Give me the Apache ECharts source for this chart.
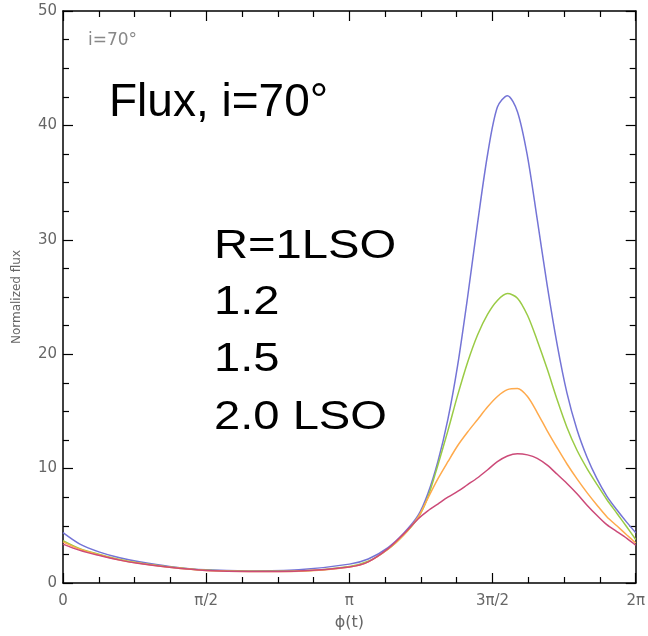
<!DOCTYPE html>
<html>
<head>
<meta charset="utf-8">
<script src="https://cdn.jsdelivr.net/npm/echarts@6/dist/echarts.min.js"></script>
<style>
html,body{margin:0;padding:0;background:#fff;}
#chart{width:648px;height:636px;}
</style>
</head>
<body>
<div id="chart"></div>
<script>
// phase in units of pi (0 .. 2)
var phase = [0, 0.059, 0.128, 0.198, 0.267, 0.372, 0.5, 0.649, 0.823, 1.0, 1.066, 1.135, 1.188, 1.24, 1.274, 1.309, 1.344, 1.378, 1.413, 1.448, 1.483, 1.517, 1.552, 1.587, 1.622, 1.656, 1.691, 1.726, 1.76, 1.795, 1.83, 1.865, 1.899, 1.934, 1.969, 2.0];
var fluxR10 = [4.4, 3.4, 2.7, 2.2, 1.85, 1.45, 1.15, 1.05, 1.15, 1.65, 2.1, 3.1, 4.3, 5.9, 7.8, 10.6, 14.3, 19.0, 25.0, 31.5, 37.5, 41.6, 42.6, 41.2, 37.3, 31.8, 26.0, 20.8, 16.6, 13.4, 11.0, 9.1, 7.6, 6.4, 5.3, 4.4];
var fluxR12 = [3.7, 3.0, 2.5, 2.05, 1.75, 1.4, 1.12, 1.02, 1.05, 1.45, 1.9, 2.95, 4.15, 5.7, 7.5, 10.3, 13.3, 16.4, 19.3, 21.7, 23.5, 24.7, 25.3, 24.9, 23.4, 21.2, 18.7, 16.0, 13.6, 11.6, 10.0, 8.6, 7.3, 6.1, 4.9, 3.8];
var fluxR15 = [3.6, 2.95, 2.45, 2.02, 1.72, 1.38, 1.1, 1.0, 1.03, 1.4, 1.85, 2.95, 4.15, 5.75, 7.4, 9.1, 10.6, 12.0, 13.2, 14.3, 15.4, 16.3, 16.9, 17.0, 16.3, 14.9, 13.3, 11.8, 10.4, 9.1, 7.9, 6.8, 5.8, 5.0, 4.2, 3.5];
var fluxR20 = [3.4, 2.85, 2.4, 2.0, 1.7, 1.38, 1.1, 1.0, 1.05, 1.4, 1.85, 3.0, 4.25, 5.6, 6.3, 6.9, 7.5, 8.0, 8.6, 9.2, 9.9, 10.6, 11.1, 11.3, 11.2, 10.9, 10.3, 9.5, 8.7, 7.8, 6.8, 5.9, 5.1, 4.5, 3.9, 3.3];
var seriesNames = ['R=1LSO', '1.2', '1.5', '2.0 LSO'];
var seriesColors = ['#7474d6', '#9acb45', '#ffaa4c', '#cc4a78'];
var xTickLabels = {'0': '0', '0.5': 'π/2', '1': 'π', '1.5': '3π/2', '2': '2π'};
var xAxisName = 'ϕ(t)';
var yAxisName = 'Normalized flux';
var insetLabel = 'i=70°';
var titleText = 'Flux, i=70°';
var legendLines = ['R=1LSO', '1.2', '1.5', '2.0 LSO'];

var allFlux = [fluxR10, fluxR12, fluxR15, fluxR20];
function pairs(arr) { return phase.map(function (p, i) { return [p, arr[i]]; }); }

var labelFont = 'DejaVu Sans';

function xAxisCfg(pos, showLabel) {
  return {
    type: 'value', min: 0, max: 2, interval: 0.5, position: pos,
    axisLine: { show: true, onZero: false, lineStyle: { color: '#000', width: 1.5 } },
    axisTick: { show: true, inside: true, length: 10, lineStyle: { color: '#000', width: 1.2 } },
    minorTick: { show: true, splitNumber: 4, length: 6, lineStyle: { color: '#000', width: 1.2 } },
    splitLine: { show: false }, minorSplitLine: { show: false },
    axisLabel: {
      show: showLabel, color: '#666', fontSize: 15, fontFamily: labelFont, margin: 11,
      formatter: function (v) { var k = String(+v.toFixed(2)); return xTickLabels[k] !== undefined ? xTickLabels[k] : ''; }
    },
    name: showLabel ? xAxisName : '', nameLocation: 'middle', nameGap: 32,
    nameTextStyle: { color: '#666', fontSize: 16, fontFamily: labelFont }
  };
}
function yAxisCfg(pos, showLabel) {
  return {
    type: 'value', min: 0, max: 50, interval: 10, position: pos,
    axisLine: { show: true, onZero: false, lineStyle: { color: '#000', width: 1.5 } },
    axisTick: { show: true, inside: true, length: 10, lineStyle: { color: '#000', width: 1.2 } },
    minorTick: { show: true, splitNumber: 4, length: 6, lineStyle: { color: '#000', width: 1.2 } },
    splitLine: { show: false }, minorSplitLine: { show: false },
    axisLabel: {
      show: showLabel, color: '#666', fontSize: 15, fontFamily: labelFont, margin: 6,
      verticalAlign: 'middle'
    },
    name: showLabel ? yAxisName : '', nameLocation: 'middle', nameGap: 40, nameRotate: 90,
    nameTextStyle: { color: '#666', fontSize: 12, fontFamily: labelFont }
  };
}

var chart = echarts.init(document.getElementById('chart'), null, { renderer: 'canvas' });
var series = allFlux.map(function (arr, i) {
  return {
    name: seriesNames[i], type: 'line', xAxisIndex: 0, yAxisIndex: 0,
    data: pairs(arr), showSymbol: false, smooth: 0.3, animation: false,
    lineStyle: { color: seriesColors[i], width: 1.5 }, itemStyle: { color: seriesColors[i] }
  };
});

var graphics = [
  { type: 'text', left: 88, top: 32, style: { text: insetLabel, fill: '#888', font: '17px "DejaVu Sans"' } },
  { type: 'text', left: 109, top: 80, style: { text: titleText, fill: '#000', font: '46px "Liberation Sans"' } }
];
var legTops = [226, 282, 339, 397];
legendLines.forEach(function (t, i) {
  graphics.push({ type: 'text', x: 214, y: legTops[i], scaleX: 1.15, style: { text: t, fill: '#000', font: '41px "Liberation Sans"' } });
});

chart.setOption({
  animation: false,
  backgroundColor: '#fff',
  grid: { left: 63, right: 9, top: 11, bottom: 52, containLabel: false },
  xAxis: [xAxisCfg('bottom', true), xAxisCfg('top', false)],
  yAxis: [yAxisCfg('left', true), yAxisCfg('right', false)],
  series: series,
  graphic: graphics
});
</script>
</body>
</html>
